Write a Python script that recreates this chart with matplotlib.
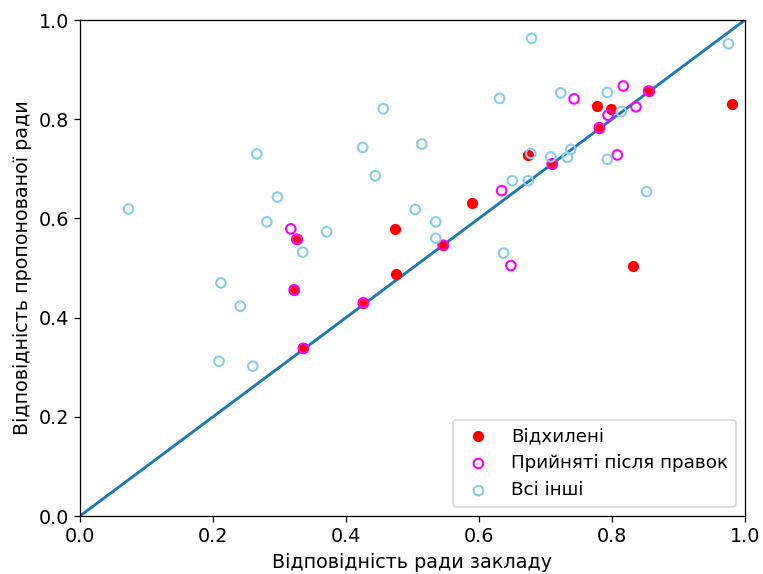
import matplotlib
matplotlib.use('Agg')
from matplotlib import pyplot as plt
import numpy as np

# rejected proposals (filled red)
rejected_x = [0.326, 0.322, 0.473, 0.475, 0.426, 0.336, 0.546, 0.589, 0.673,
              0.710, 0.781, 0.777, 0.798, 0.855, 0.981, 0.831]
rejected_y = [0.558, 0.456, 0.579, 0.488, 0.430, 0.338, 0.546, 0.632, 0.728,
              0.710, 0.783, 0.827, 0.821, 0.857, 0.830, 0.505]

# accepted after edits (open magenta)
accepted_x = [0.317, 0.326, 0.322, 0.426, 0.336, 0.546, 0.634, 0.648, 0.710,
              0.743, 0.781, 0.794, 0.808, 0.817, 0.836, 0.855]
accepted_y = [0.579, 0.558, 0.456, 0.430, 0.338, 0.546, 0.656, 0.505, 0.710,
              0.841, 0.783, 0.808, 0.728, 0.867, 0.825, 0.857]

# all the others (open light blue)
other_x = [0.073, 0.212, 0.241, 0.209, 0.260, 0.266, 0.297, 0.281, 0.335, 0.371,
           0.425, 0.444, 0.456, 0.514, 0.504, 0.535, 0.535, 0.637, 0.631, 0.679,
           0.650, 0.674, 0.678, 0.708, 0.733, 0.738, 0.723, 0.793, 0.793, 0.814,
           0.852, 0.975]
other_y = [0.619, 0.470, 0.423, 0.312, 0.302, 0.730, 0.643, 0.593, 0.532, 0.573,
           0.743, 0.686, 0.821, 0.750, 0.618, 0.593, 0.560, 0.530, 0.842, 0.963,
           0.676, 0.676, 0.731, 0.724, 0.723, 0.739, 0.853, 0.719, 0.854, 0.815,
           0.654, 0.952]

labels = ['Відхилені', 'Прийняті після правок', 'Всі інші']

plt.rcParams['font.size'] = 12

DPI = 115
fig = plt.figure(figsize=(763 / DPI, 574 / DPI), dpi=DPI)
ax = fig.add_axes([80 / 763, 58 / 574, 665 / 763, 496 / 574])

ax.plot([0, 1], [0, 1], lw=1.8, zorder=1)
ax.scatter(rejected_x, rejected_y, c='red', label=labels[0], zorder=2)
ax.scatter(accepted_x, accepted_y, facecolors='none', edgecolors='magenta',
           linewidths=1.3, label=labels[1], zorder=3)
ax.scatter(other_x, other_y, facecolors='none', edgecolors='skyblue',
           linewidths=1.3, label=labels[2], zorder=4)

ax.set_xlim(0, 1)
ax.set_ylim(0, 1)
ax.set_xlabel('Відповідність ради закладу')
ax.set_ylabel('Відповідність пропонованої ради')
ax.legend(loc='lower right', fontsize=11.5)

fig.savefig('out.png', dpi=DPI)
